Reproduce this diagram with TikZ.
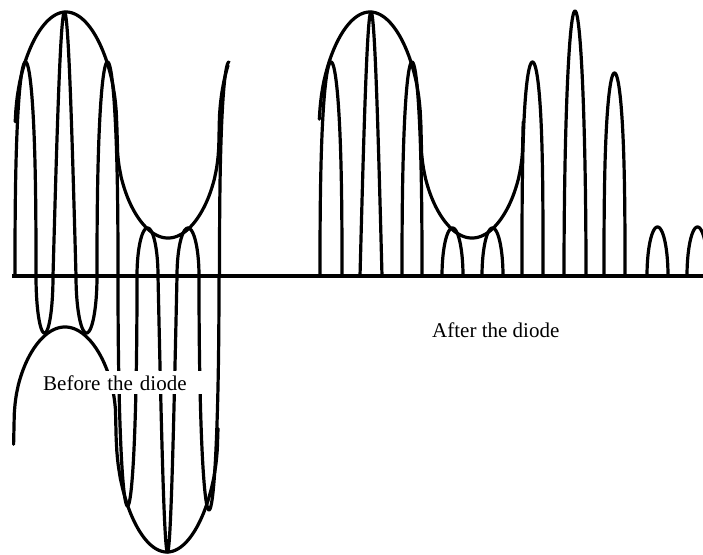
\documentclass[tikz,border=0pt]{standalone}
\usepackage{fontspec}
\setmainfont{Liberation Serif}
\begin{document}
\begin{tikzpicture}[x=1pt,y=-1pt,
  curve/.style={line width=3.2pt,line join=round,line cap=round},
  axisline/.style={line width=4.6pt},
  lbl/.style={font=\fontsize{21}{24}\selectfont,inner sep=0pt},
  declare function={
    eu(\u)=(cos(\u)>0) ? (141+123*pow(abs(cos(\u))+0.0001,0.44)) : (141-103*pow(abs(cos(\u))+0.0001,0.44));
    el(\u)=(cos(\u)>0) ? (150-99*pow(abs(cos(\u))+0.0001,0.44)) : (150+126*pow(abs(cos(\u))+0.0001,0.44));
  }]
\useasboundingbox (0,0) rectangle (703,554);
\clip (0,0) rectangle (703,554);
% ---------- before the diode ----------
% upper envelope
\draw[curve] plot[domain=15.2:228,samples=300] ({\x},{276-eu(1.76471*(\x-66))});
% lower envelope
\draw[curve] plot[domain=13.6:218,samples=300] ({\x},{276+el(1.76471*(\x-65))});
% positive half waves (rounded arches)
\foreach \a/\b/\h/\q in {15/36/214/0.75,97/118/214/0.8,137/158/48/1,177/199/48/1}
  \draw[curve] plot[domain=0:180,samples=61] ({(\a+\b)/2-(\b-\a)/2*cos(\x)},{276-\h*pow(sin(\x)+0.00002,\q)});
% tallest positive half wave (pointed)
\draw[curve] plot[domain=0:180,samples=61] ({53+23*\x/180},{276-264*sin(\x)});
% last rising quarter wave
\draw[curve] plot[domain=0:90,samples=31] ({229-9.5*cos(\x)},{276-214*pow(sin(\x)+0.00002,0.75)});
% negative half waves
\foreach \a/\b/\h/\q in {36/53/57/1,76/97/57/1,118/137/230/0.9,199/219/234/0.9}
  \draw[curve] plot[domain=0:180,samples=61] ({(\a+\b)/2-(\b-\a)/2*cos(\x)},{276+\h*pow(sin(\x)+0.00002,\q)});
\draw[curve] plot[domain=0:180,samples=61] ({158+19*\x/180},{276+276*sin(\x)});
% ---------- after the diode ----------
\draw[curve] plot[domain=319.3:523.2,samples=300] ({\x},{276-eu(1.76471*(\x-370))});
\foreach \a/\b/\h/\q in {320/342/214/0.75,402/422/214/0.8,442/463/48/1,482/503/48/1,
                      522/543/214/0.6,564/586/265/1,604/625/203/0.7,647/668/49/1,687/708/49/1}
  \draw[curve] plot[domain=0:180,samples=61] ({(\a+\b)/2-(\b-\a)/2*cos(\x)},{276-\h*pow(sin(\x)+0.00002,\q)});
\draw[curve] plot[domain=0:180,samples=61] ({360+22*\x/180},{276-264*sin(\x)});
% axis
\coordinate (axL) at (12,276);
\coordinate (axR) at (710,276);
\draw[axisline] (axL) -- (axR);
% labels
\node[lbl,fill=white,anchor=base west,inner xsep=4pt,inner ysep=4pt,text width=160pt,align=left]
  (before) at (39,390) {Before the diode};
\node[lbl,anchor=base west] (after) at (432,337) {After the diode};
\end{tikzpicture}
\end{document}
